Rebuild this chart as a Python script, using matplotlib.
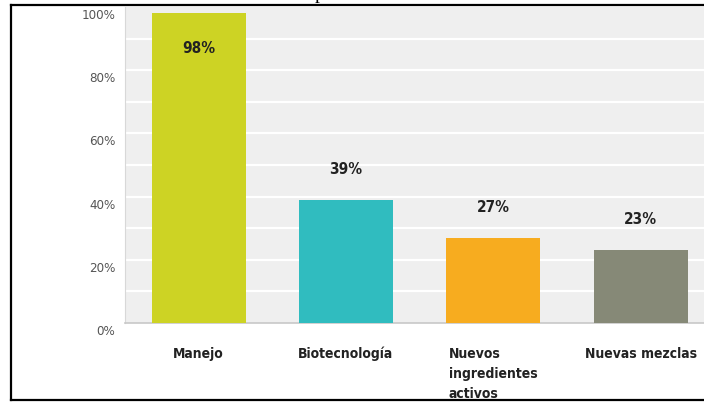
import numpy as np
import matplotlib.pyplot as plt
import matplotlib.transforms as mtransforms
from matplotlib.lines import Line2D

categories = ['Manejo', 'Biotecnología', 'Nuevos\ningredientes\nactivos', 'Nuevas mezclas']
values = [98, 39, 27, 23]
colors = ['#cdd324', '#30bcbf', '#f7ac1f', '#868977']
yticks = [0, 20, 40, 60, 80, 100]
ytick_labels = ['0%', '20%', '40%', '60%', '80%', '100%']

narrow = ['Liberation Sans Narrow', 'DejaVu Sans']

W, H = 704, 403
fig = plt.figure(figsize=(W / 100, H / 100), dpi=100)
fig.patch.set_facecolor('white')

# plot area in pixels: left 125, bottom 323, top 7, runs off the right edge
ax = fig.add_axes([125 / W, (H - 323) / H, (W - 125) / W, (323 - 7) / H])
ax.set_facecolor('#efefef')

x = np.arange(len(categories))
ax.bar(x, values, width=0.64, color=colors, zorder=3)

ax.set_xlim(-0.5, 3.43)
ax.set_ylim(0, 100)

# white grid every 10%
for g in range(10, 100, 10):
    ax.axhline(g, color='white', lw=1.6, zorder=1)

for i, v in enumerate(values):
    off = -25 if v > 90 else 22
    ax.annotate(f'{v}%', (i, v), xytext=(0, off), textcoords='offset points',
                ha='center', va='center', fontsize=11, fontweight='bold',
                family=narrow, stretch='condensed', color='#222222', zorder=4)

ax.set_xticks(x)
ax.set_xticklabels(categories, fontsize=10, fontweight='bold', family=narrow,
                   stretch='condensed', color='#222222', va='top',
                   multialignment='left', linespacing=1.55)
ax.tick_params(axis='x', length=0, pad=17)

ax.set_yticks(yticks)
ax.set_yticklabels(ytick_labels, fontsize=9.5, family=narrow, stretch='condensed',
                   color='#555555')
ax.tick_params(axis='y', length=0, pad=7)
shift = mtransforms.ScaledTranslation(0, -0.07, fig.dpi_scale_trans)
for lab in ax.get_yticklabels():
    lab.set_transform(lab.get_transform() + shift)

for s in ['top', 'right']:
    ax.spines[s].set_visible(False)
ax.spines['bottom'].set_color('#c8c8c8')
ax.spines['bottom'].set_linewidth(1.2)
ax.spines['left'].set_color('#d8d8d8')
ax.spines['left'].set_linewidth(0.8)

# black frame (left, top, bottom; right side is cut off)
def px(xp, yp):
    return xp / W, 1 - yp / H

fx = [px(11, 5)[0], px(W, 5)[0]]
fig.add_artist(Line2D([fx[0], fx[1]], [px(0, 5)[1]] * 2, color='black', lw=1.6))
fig.add_artist(Line2D([fx[0], fx[1]], [px(0, 400)[1]] * 2, color='black', lw=1.6))
fig.add_artist(Line2D([fx[0]] * 2, [px(0, 5)[1], px(0, 400)[1]], color='black', lw=1.6))

# cut-off caption letter above the frame
fig.text(315 / W, 1 + 1 / H, 'p', family='Liberation Serif', fontsize=14, va='baseline')

fig.savefig('out.png', dpi=100)
